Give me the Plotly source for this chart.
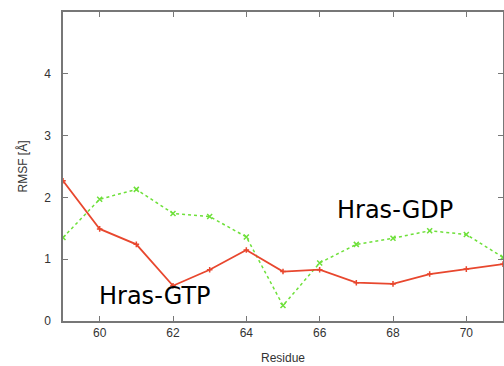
import plotly.graph_objects as go

residues = [59, 60, 61, 62, 63, 64, 65, 66, 67, 68, 69, 70, 71]
gtp_rmsf = [2.27, 1.49, 1.24, 0.57, 0.83, 1.15, 0.80, 0.83, 0.62, 0.60, 0.76, 0.84, 0.92]
gdp_rmsf = [1.35, 1.97, 2.13, 1.74, 1.69, 1.36, 0.25, 0.94, 1.24, 1.34, 1.46, 1.40, 1.03]
x_ticks = [60, 62, 64, 66, 68, 70]
y_ticks = [0, 1, 2, 3, 4]

fig = go.Figure()
fig.add_trace(go.Scatter(
    x=residues, y=gdp_rmsf, mode="lines+markers", name="Hras-GDP",
    line=dict(color="#6ee03a", width=1.5, dash="dot"),
    marker=dict(symbol="x-thin", size=5, line=dict(color="#6ee03a", width=1.5)),
))
fig.add_trace(go.Scatter(
    x=residues, y=gtp_rmsf, mode="lines+markers", name="Hras-GTP",
    line=dict(color="#e8472e", width=1.8),
    marker=dict(symbol="cross-thin", size=4, line=dict(color="#e8472e", width=1.5)),
))

fig.add_annotation(x=59.93, y=0.40, xanchor="left", yanchor="middle",
                   text="Hras-GTP", showarrow=False,
                   font=dict(family="DejaVu Sans", size=24, color="black"))
fig.add_annotation(x=66.42, y=1.80, xanchor="left", yanchor="middle",
                   text="Hras-GDP", showarrow=False,
                   font=dict(family="DejaVu Sans", size=24, color="black"))

axis_common = dict(showgrid=False, zeroline=False, showline=True, mirror="ticks",
                   linecolor="#777777", linewidth=1.5, ticks="inside", ticklen=5,
                   tickcolor="#777777", automargin=False,
                   tickfont=dict(family="Liberation Sans", size=12, color="#333333"))
fig.update_xaxes(range=[59, 71], tickvals=x_ticks,
                 title=dict(text="Residue", font=dict(family="Liberation Sans", size=12, color="#333333"), standoff=14),
                 **axis_common)
fig.update_yaxes(range=[0, 5], tickvals=y_ticks, ticklabelstandoff=8,
                 title=dict(text="RMSF [Å]", font=dict(family="Liberation Sans", size=12, color="#333333"), standoff=14),
                 **axis_common)

fig.update_layout(width=504, height=366, showlegend=False,
                  plot_bgcolor="white", paper_bgcolor="white",
                  margin=dict(l=63, r=1, t=12, b=45))
fig.write_html("out.html", config={"displayModeBar": False},
               post_script="document.body.style.margin='0';")
